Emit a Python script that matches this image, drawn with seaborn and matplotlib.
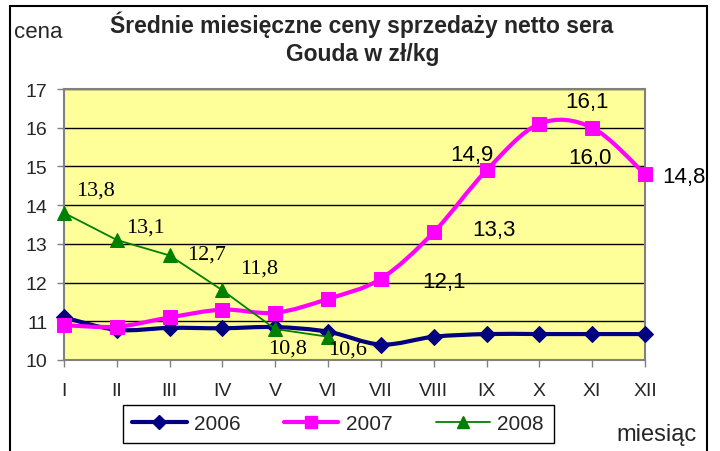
import numpy as np
import matplotlib
matplotlib.use("Agg")
import matplotlib.pyplot as plt
import seaborn as sns
import pandas as pd
from matplotlib.path import Path
from matplotlib.patches import PathPatch
from matplotlib.lines import Line2D

# data
months = ["I", "II", "III", "IV", "V", "VI", "VII", "VIII", "IX", "X", "XI", "XII"]
price_2006 = [11.1, 10.78, 10.83, 10.82, 10.85, 10.73, 10.4, 10.6, 10.67, 10.67, 10.67, 10.67]
price_2007 = [10.9, 10.86, 11.1, 11.3, 11.22, 11.58, 12.1, 13.3, 14.9, 16.1, 16.0, 14.8]
price_2008 = [13.8, 13.1, 12.7, 11.8, 10.8, 10.6]
labels_2007 = ["", "", "", "", "", "", "12,1", "13,3", "14,9", "16,1", "16,0", "14,8"]
labels_2008 = ["13,8", "13,1", "12,7", "11,8", "10,8", "10,6"]

# label offsets in pixels (dx, dy) relative to the point
off_2007 = [None] * 6 + [(63, -3), (60, 3), (-15, 16), (48, 22), (-2, -30), (39, -2)]
off_2008 = [(31, 23), (29, 13), (37, 1), (37, 22), (12, -19), (19, -12)]

C06, C07, C08 = "#000080", "#FF00FF", "#008000"

sns.set_theme(style="white")
plt.rcParams["font.family"] = ["Liberation Sans", "DejaVu Sans"]


def smooth_path(xs, ys):
    # Excel-like smoothed line: cubic Bezier through the points
    pts = np.column_stack([xs, ys]).astype(float)
    n = len(pts)
    verts = [pts[0]]
    codes = [Path.MOVETO]
    for i in range(n - 1):
        p0 = pts[i - 1] if i > 0 else pts[i]
        p1 = pts[i]
        p2 = pts[i + 1]
        p3 = pts[i + 2] if i + 2 < n else pts[i + 1]
        c1 = p1 + (p2 - p0) / 6.0
        c2 = p2 - (p3 - p1) / 6.0
        verts += [c1, c2, p2]
        codes += [Path.CURVE4] * 3
    return Path(verts, codes)


fig = plt.figure(figsize=(7.2, 4.52), dpi=100)
ax = fig.add_axes([64 / 720, 1 - 361 / 452, 581 / 720, 271 / 452])
ax.set_facecolor("#FFFF99")

x = np.arange(len(months))
df06 = pd.DataFrame({"m": x, "v": price_2006})
df07 = pd.DataFrame({"m": x, "v": price_2007})
df08 = pd.DataFrame({"m": x[:len(price_2008)], "v": price_2008})

ax.add_patch(PathPatch(smooth_path(x, price_2006), fill=False, edgecolor=C06, lw=3, zorder=3))
ax.add_patch(PathPatch(smooth_path(x, price_2007), fill=False, edgecolor=C07, lw=3, zorder=3))

sns.lineplot(data=df06, x="m", y="v", ax=ax, linestyle="none", marker="D", markersize=8,
             color=C06, markeredgecolor=C06, zorder=4, clip_on=False)
sns.lineplot(data=df07, x="m", y="v", ax=ax, linestyle="none", marker="s", markersize=10,
             color=C07, markeredgecolor=C07, zorder=4, clip_on=False)
sns.lineplot(data=df08, x="m", y="v", ax=ax, marker="^", markersize=10, lw=1.3,
             color=C08, markeredgecolor=C08, zorder=5, clip_on=False)

for i, lab in enumerate(labels_2007):
    if lab:
        ax.annotate(lab, (x[i], price_2007[i]), xytext=off_2007[i], textcoords="offset pixels",
                    ha="center", va="center", fontsize=16, color="black", zorder=6,
                    annotation_clip=False)
for i, lab in enumerate(labels_2008):
    ax.annotate(lab, (x[i], price_2008[i]), xytext=off_2008[i], textcoords="offset pixels",
                ha="center", va="center", fontsize=16, color="black", zorder=6,
                family=["Liberation Serif", "DejaVu Serif"])

ax.set_xlim(0, 11)
ax.set_ylim(10, 17)
ax.set_xticks(x)
ax.set_xticklabels(months)
ax.set_yticks(range(10, 18))
ax.tick_params(axis="both", which="major", labelsize=14, length=5, width=1,
               color="#808080", direction="out", bottom=True, left=True)
ax.tick_params(axis="x", pad=11)
ax.tick_params(axis="y", pad=7)
ax.yaxis.grid(True, color="black", lw=1)
ax.set_axisbelow(True)
ax.set_xlabel("")
ax.set_ylabel("")
for s in ax.spines.values():
    s.set_color("#808080")
    s.set_linewidth(1.5)

# outer frame
for xs_, ys_ in [((10 / 720, 10 / 720), (0, 1 - 7 / 452)),
                 ((10 / 720, 707 / 720), (1 - 7 / 452, 1 - 7 / 452)),
                 ((707 / 720, 707 / 720), (1 - 7 / 452, 0))]:
    fig.add_artist(Line2D(xs_, ys_, color="black", lw=1.5, transform=fig.transFigure))

fig.text(362 / 720, 1 - 33 / 452, "Średnie miesięczne ceny sprzedaży netto sera",
         ha="center", va="baseline", fontsize=16.5, fontweight="bold")
fig.text(363 / 720, 1 - 61 / 452, "Gouda w zł/kg", ha="center", va="baseline",
         fontsize=16.5, fontweight="bold")
fig.text(14 / 720, 1 - 32 / 452, "cena", ha="left", va="center", fontsize=16)
fig.text(697 / 720, 1 - 435 / 452, "miesiąc", ha="right", va="center", fontsize=17)

handles = [
    Line2D([], [], color=C06, lw=3, marker="D", markersize=7),
    Line2D([], [], color=C07, lw=3, marker="s", markersize=8),
    Line2D([], [], color=C08, lw=1.3, marker="^", markersize=9),
]
fig.legend(handles, ["2006", "2007", "2008"], loc="upper left",
           bbox_to_anchor=(123 / 720, 1 - 406 / 452), ncol=3, frameon=True,
           fancybox=False, edgecolor="black", fontsize=15, handlelength=2.6,
           handletextpad=0.35, columnspacing=2.1, borderpad=0.45, borderaxespad=0,
           framealpha=1)

fig.savefig("out.png", dpi=100)
